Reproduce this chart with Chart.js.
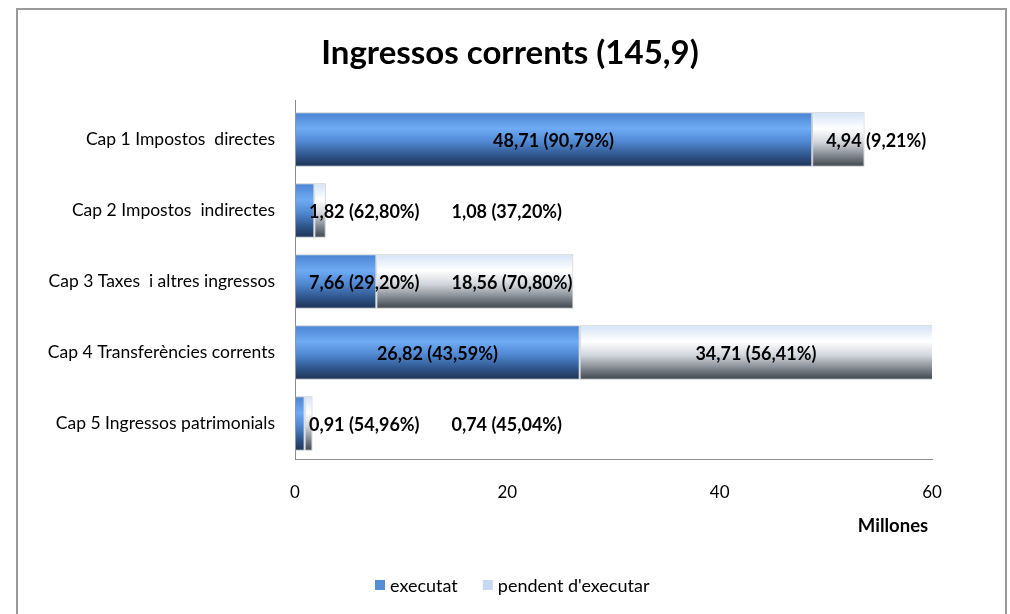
<!DOCTYPE html>
<html><head><meta charset="utf-8">
<script src="https://cdn.jsdelivr.net/npm/chart.js@4"></script>
<style>html,body{margin:0;padding:0;background:#fff}canvas{display:block}</style>
</head><body>
<canvas id="c" width="1010" height="614"></canvas>
<script>
// ---- data ----
const categories = [
  'Cap 1 Impostos  directes',
  'Cap 2 Impostos  indirectes',
  'Cap 3 Taxes  i altres ingressos',
  'Cap 4 Transferències corrents',
  'Cap 5 Ingressos patrimonials'
];
const executat = [48.71, 1.82, 7.66, 26.82, 0.91];
const pendent = [4.94, 1.08, 18.56, 34.71, 0.74];
const executatPct = [90.79, 62.80, 29.20, 43.59, 54.96];
const pendentPct = [9.21, 37.20, 70.80, 56.41, 45.04];
const xTickValues = [0, 20, 40, 60];
const seriesNames = ['executat', "pendent d'executar"];
const titleText = 'Ingressos corrents (145,9)';
const axisTitleText = 'Millones';

// ---- styles ----
const FONT = "Lato, 'Open Sans', sans-serif";
const BAR_PCT = 0.77;
const execStops = [[0,'#4a82d0'],[0.3,'#6fabf5'],[0.55,'#4f86d0'],[0.8,'#2e5489'],[1,'#1d3253']];
const pendStops = [[0,'#d4e3f6'],[0.3,'#ffffff'],[0.55,'#d2d6db'],[0.8,'#7d848c'],[1,'#3c434b']];
const legendColors = ['#558ed5', '#c6d9f1'];

function fmt(v) { return v.toFixed(2).replace('.', ','); }

function gradient(stops, fallback) {
  return (ctx) => {
    const chart = ctx.chart;
    const ys = chart.scales && chart.scales.y;
    if (!ys || !chart.chartArea || ctx.dataIndex === undefined) return fallback;
    const c = ys.getPixelForValue(ctx.dataIndex);
    const half = ys.height / categories.length * BAR_PCT / 2;
    const g = chart.ctx.createLinearGradient(0, c - half, 0, c + half);
    stops.forEach(([o, col]) => g.addColorStop(o, col));
    return g;
  };
}

const decorPlugin = {
  id: 'decor',
  beforeDraw(chart) {
    const ctx = chart.ctx;
    ctx.save();
    ctx.fillStyle = '#fff';
    ctx.fillRect(0, 0, chart.width, chart.height);
    ctx.strokeStyle = '#9a9a9a';
    ctx.lineWidth = 2;
    ctx.beginPath();
    ctx.moveTo(17, 700); ctx.lineTo(17, 9); ctx.lineTo(1006, 9); ctx.lineTo(1006, 700);
    ctx.stroke();
    // y axis line extends slightly above plot, as in the original
    const a = chart.chartArea;
    ctx.strokeStyle = '#8c8c8c';
    ctx.lineWidth = 1;
    ctx.beginPath();
    ctx.moveTo(a.left + 0.5, a.top - 4); ctx.lineTo(a.left + 0.5, a.top);
    ctx.stroke();
    ctx.restore();
  },
  afterDraw(chart) {
    const ctx = chart.ctx;
    ctx.save();
    ctx.fillStyle = '#000';
    ctx.textAlign = 'center';
    ctx.textBaseline = 'middle';
    ctx.font = 'bold 33px ' + FONT;
    ctx.fillText(titleText, 510, 53);
    ctx.font = 'bold 18.5px ' + FONT;
    ctx.fillText(axisTitleText, 893, 526);
    // legend
    ctx.font = '18px ' + FONT;
    ctx.textAlign = 'left';
    let x = 375;
    chart.data.datasets.forEach((ds, i) => {
      ctx.fillStyle = legendColors[i];
      ctx.fillRect(x, 580, 10, 10);
      ctx.fillStyle = '#000';
      ctx.fillText(ds.label, x + 15, 586);
      x += 15 + ctx.measureText(ds.label).width + 25;
    });
    ctx.restore();
  },
  afterDatasetsDraw(chart) {
    const ctx = chart.ctx;
    const xs = chart.scales.x, ys = chart.scales.y;
    const area = chart.chartArea;
    const pad = 14, gap = 32;
    ctx.save();
    ctx.font = 'bold 18px ' + FONT;
    ctx.fillStyle = '#000';
    ctx.textAlign = 'left';
    ctx.textBaseline = 'middle';
    categories.forEach((c, i) => {
      const y = ys.getPixelForValue(i);
      const segs = [
        [0, executat[i], fmt(executat[i]) + ' (' + fmt(executatPct[i]) + '%)'],
        [executat[i], executat[i] + pendent[i], fmt(pendent[i]) + ' (' + fmt(pendentPct[i]) + '%)']
      ];
      let prevRight = -Infinity;
      segs.forEach(([a, b, txt]) => {
        const x0 = xs.getPixelForValue(a);
        const x1 = Math.min(xs.getPixelForValue(b), area.right);
        const w = ctx.measureText(txt).width;
        let left = (w + 2 * pad <= x1 - x0) ? (x0 + x1) / 2 - w / 2 : x0 + pad;
        left = Math.max(left, prevRight + gap);
        ctx.fillText(txt, left, y + 2);
        prevRight = left + w;
      });
    });
    ctx.restore();
  }
};

new Chart(document.getElementById('c'), {
  type: 'bar',
  data: {
    labels: categories,
    datasets: [
      { label: seriesNames[0], data: executat, backgroundColor: gradient(execStops, legendColors[0]),
        borderColor: 'rgba(150,160,170,0.6)', borderWidth: 1, borderSkipped: false },
      { label: seriesNames[1], data: pendent, backgroundColor: gradient(pendStops, legendColors[1]),
        borderColor: 'rgba(150,160,170,0.6)', borderWidth: 1, borderSkipped: false }
    ]
  },
  options: {
    indexAxis: 'y',
    responsive: false,
    animation: false,
    devicePixelRatio: 1,
    layout: { padding: { left: 0, top: 104, right: 78, bottom: 95 } },
    datasets: { bar: { barPercentage: BAR_PCT, categoryPercentage: 1 } },
    plugins: { legend: { display: false }, title: { display: false }, tooltip: { enabled: false } },
    scales: {
      x: {
        stacked: true, min: 0, max: 60,
        afterBuildTicks(scale) { scale.ticks = xTickValues.map(v => ({ value: v })); },
        afterFit(scale) { scale.height = 60; },
        grid: { display: false, drawTicks: false },
        border: { display: true, color: '#8c8c8c', width: 1 },
        ticks: { color: '#000', font: { family: FONT, size: 17 }, padding: 23, callback: v => String(v) }
      },
      y: {
        stacked: true,
        afterFit(scale) { scale.width = 295; },
        grid: { display: false, drawTicks: false },
        border: { display: true, color: '#8c8c8c', width: 1 },
        ticks: { color: '#000', font: { family: FONT, size: 17.5 }, padding: 20 }
      }
    }
  },
  plugins: [decorPlugin]
});
</script>
</body></html>
